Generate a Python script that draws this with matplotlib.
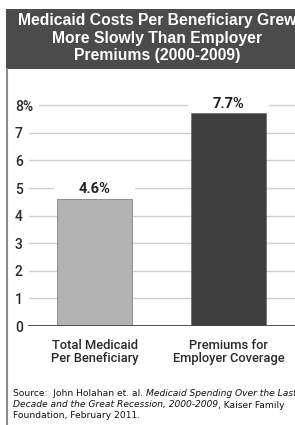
import matplotlib
matplotlib.use("Agg")
import matplotlib.pyplot as plt
from matplotlib.patches import Rectangle

W, H = 295, 425

title = "Medicaid Costs Per Beneficiary Grew\nMore Slowly Than Employer\nPremiums (2000-2009)"
categories = ["Total Medicaid\nPer Beneficiary", "Premiums for\nEmployer Coverage"]
values = [4.6, 7.7]
value_labels = ["4.6%", "7.7%"]
bar_colors = ["#b2b2b2", "#3f3f3f"]
yticks = [0, 1, 2, 3, 4, 5, 6, 7, 8]
ytick_labels = ["0", "1", "2", "3", "4", "5", "6", "7", "8%"]

NARROW = ["Roboto", "DejaVu Sans"]


def fx(px):
    return px / W


def fy(py):
    return 1 - py / H


fig = plt.figure(figsize=(W / 100, H / 100), dpi=100)
fig.patch.set_facecolor("white")

# header box and left frame line
fig.patches.append(Rectangle((fx(6), fy(69)), fx(W) - fx(6), fy(9) - fy(69),
                             transform=fig.transFigure, facecolor="#4b4b4b",
                             edgecolor="none", zorder=0))
fig.add_artist(plt.Line2D([fx(6.5), fx(6.5)], [fy(69), 0], transform=fig.transFigure,
                          color="#8a8a8a", lw=1.5))
fig.text(fx(157), fy(38), title, ha="center", va="center", color="white",
         fontsize=11.3, fontweight="bold", family="Liberation Sans", linespacing=1.2)

# axes: y=0 at px 326, 27.6 px per unit
top_val = 8.4
ax = fig.add_axes([fx(28), fy(326), fx(W) - fx(28), top_val * 27.6 / H])
x0, step = 94.5, 134.0
ax.set_xlim((28 - x0) / step, (W - x0) / step)
ax.set_ylim(0, top_val)

for s in ax.spines.values():
    s.set_visible(False)
ax.set_axisbelow(True)
ax.set_yticks(yticks)
ax.set_yticklabels(ytick_labels, family=NARROW, fontsize=10, fontweight="medium",
                   color="#2a2a2a", ha="left")
ax.tick_params(axis="y", length=0, pad=9.5)
ax.tick_params(axis="x", length=0, labelbottom=False)
for lab in ax.get_yticklabels():
    lab.set_bbox(dict(facecolor="white", edgecolor="none", pad=4.5))
ax.yaxis.grid(True, color="#cfcfcf", lw=1)
ax.axhline(0, color="#444444", lw=1.3, zorder=3)

pos = list(range(len(values)))
bw = 75 / step
ax.bar(pos, values, width=bw, color=bar_colors, edgecolor="#5a5a5a", lw=0.4, zorder=2)
# white gaps behind the value labels
ax.bar(pos, [0.75] * len(values), bottom=values, width=bw * 1.07, color="white", zorder=2)
for p, v, t in zip(pos, values, value_labels):
    ax.text(p, v + 0.36, t, ha="center", va="center", fontsize=10.5, fontweight="bold",
            family=NARROW, color="#222222", zorder=4)

for p, c in zip(pos, categories):
    ax.text(p, -0.055, c, transform=ax.get_xaxis_transform(), ha="center", va="top",
            fontsize=9.3, fontweight="medium", family=NARROW, color="#2a2a2a",
            linespacing=1.0)

# source note, mixed upright and italic pieces
src_lines = [
    [("Source:  John Holahan et. al. ", "normal"), ("Medicaid Spending Over the Last", "italic")],
    [("Decade and the Great Recession, 2000-2009", "italic"), (", Kaiser Family", "normal")],
    [("Foundation, February 2011.", "normal")],
]
fig.canvas.draw()
renderer = fig.canvas.get_renderer()
ys = [393, 405, 416]
for line, py in zip(src_lines, ys):
    px = 13
    for txt, style in line:
        t = fig.text(fx(px), fy(py), txt, ha="left", va="center", fontsize=6.6,
                     style=style, family="DejaVu Sans", color="#111111")
        px += t.get_window_extent(renderer).width

fig.savefig("out.png", dpi=100)
